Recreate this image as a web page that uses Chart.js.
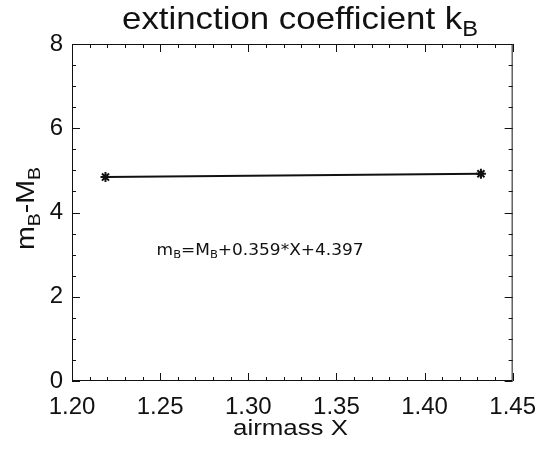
<!DOCTYPE html>
<html>
<head>
<meta charset="utf-8">
<script src="https://cdn.jsdelivr.net/npm/chart.js@4/dist/chart.umd.min.js"></script>
<style>
  html, body { margin: 0; padding: 0; background: #fff; }
  #wrap { width: 548px; height: 449px; }
</style>
</head>
<body>
<div id="wrap"><canvas id="kChart"></canvas></div>
<script>
// measured points (airmass vs m_B - M_B)
const airmass = [1.219, 1.432];
const magDiff = [4.84, 4.92];

const xTickLabels = ["1.20", "1.25", "1.30", "1.35", "1.40", "1.45"];
const yTickLabels = ["0", "2", "4", "6", "8"];

const fitLabel = { x: 1.248, y: 3.0, parts: [["m", 0], ["B", 1], ["=M", 0], ["B", 1], ["+0.359*X+4.397", 0]] };

const FONT = "'Liberation Sans', Arial, sans-serif";
const INK = "#111";

// draw text with subscripted pieces, stretched to a given width
function drawParts(ctx, parts, x, y, size, family, width) {
  let natural = 0;
  parts.forEach(([txt, sub]) => {
    ctx.font = (sub ? size * 0.68 : size) + "px " + family;
    natural += ctx.measureText(txt).width;
  });
  const k = width ? width / natural : 1;
  ctx.save();
  ctx.translate(x, y);
  ctx.scale(k, 1);
  let cx = 0;
  parts.forEach(([txt, sub]) => {
    ctx.font = (sub ? size * 0.68 : size) + "px " + family;
    ctx.fillText(txt, cx, sub ? size * 0.22 : 0);
    cx += ctx.measureText(txt).width;
  });
  ctx.restore();
}

// inward tick marks on all four sides + frame + texts
const idlFrame = {
  id: "idlFrame",
  afterDraw(chart) {
    const { ctx, chartArea: a, scales } = chart;
    const xs = scales.x, ys = scales.y;
    ctx.save();
    ctx.strokeStyle = INK;
    ctx.lineWidth = 1;
    ctx.strokeRect(a.left + 0.5, a.top + 0.5, a.right - a.left - 1, a.bottom - a.top - 1);

    ctx.beginPath();
    // x ticks: major every 0.05, minor every 0.01
    for (let i = 0; i <= 25; i++) {
      const px = Math.round(xs.getPixelForValue(1.2 + i * 0.01)) + 0.5;
      const len = i % 5 === 0 ? 8 : 4;
      ctx.moveTo(px, a.bottom); ctx.lineTo(px, a.bottom - len);
      ctx.moveTo(px, a.top); ctx.lineTo(px, a.top + len);
    }
    // y ticks: major every 2, minor every 0.5
    for (let i = 0; i <= 16; i++) {
      const py = Math.round(ys.getPixelForValue(i * 0.5)) + 0.5;
      const len = i % 4 === 0 ? 8 : 4;
      ctx.moveTo(a.left, py); ctx.lineTo(a.left + len, py);
      ctx.moveTo(a.right, py); ctx.lineTo(a.right - len, py);
    }
    ctx.stroke();

    ctx.fillStyle = INK;
    ctx.textBaseline = "alphabetic";
    ctx.textAlign = "left";

    // title
    drawParts(ctx, [["extinction coefficient k", 0], ["B", 1]], 122, 29, 32, FONT, 356);

    // x axis title
    drawParts(ctx, [["airmass X", 0]], 233, 435, 22, FONT, 115);

    // y axis title, rotated
    ctx.save();
    ctx.translate(34, 250);
    ctx.rotate(-Math.PI / 2);
    drawParts(ctx, [["m", 0], ["B", 1], ["-M", 0], ["B", 1]], 0, 0, 25, FONT, 83);
    ctx.restore();

    // fit relation label
    const lx = xs.getPixelForValue(fitLabel.x);
    const ly = ys.getPixelForValue(fitLabel.y);
    drawParts(ctx, fitLabel.parts, lx, ly, 15, "'DejaVu Sans', sans-serif", 207);
    ctx.restore();
  }
};

new Chart(document.getElementById("kChart"), {
  type: "scatter",
  data: {
    datasets: [{
      data: airmass.map((x, i) => ({ x: x, y: magDiff[i] })),
      showLine: true,
      borderColor: INK,
      borderWidth: 2,
      pointStyle: "star",
      pointRadius: 5,
      pointBorderWidth: 2,
      pointBorderColor: INK,
      pointBackgroundColor: INK
    }]
  },
  options: {
    responsive: true,
    maintainAspectRatio: false,
    animation: false,
    layout: { padding: { top: 44, right: 35, left: 0, bottom: 0 } },
    plugins: { legend: { display: false }, tooltip: { enabled: false } },
    scales: {
      x: {
        type: "linear",
        min: 1.2, max: 1.45,
        afterFit: (s) => { s.height = 68; },
        afterBuildTicks: (s) => { s.ticks = xTickLabels.map((t) => ({ value: parseFloat(t) })); },
        grid: { display: false, drawTicks: false },
        border: { display: false },
        ticks: {
          autoSkip: false, maxRotation: 0, padding: 12,
          color: INK, font: { family: FONT, size: 24 },
          callback: (v) => xTickLabels.find((t) => Math.abs(parseFloat(t) - v) < 1e-6) || ""
        }
      },
      y: {
        type: "linear",
        min: 0, max: 8,
        afterFit: (s) => { s.width = 72; },
        afterBuildTicks: (s) => { s.ticks = yTickLabels.map((t) => ({ value: parseFloat(t) })); },
        grid: { display: false, drawTicks: false },
        border: { display: false },
        ticks: {
          padding: 9,
          color: INK, font: { family: FONT, size: 24 },
          callback: (v) => yTickLabels.find((t) => parseFloat(t) === v) || ""
        }
      }
    }
  },
  plugins: [idlFrame]
});
</script>
</body>
</html>
